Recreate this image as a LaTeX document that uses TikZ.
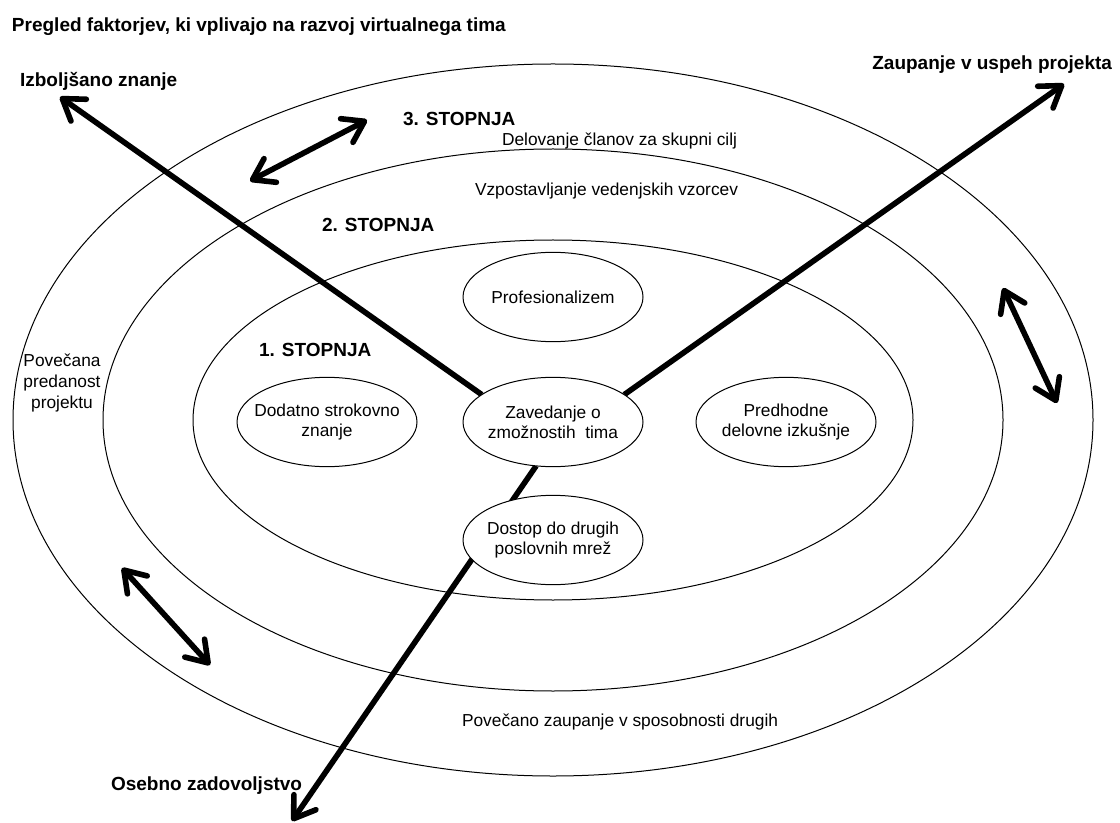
\documentclass[tikz,border=0pt]{standalone}
\usepackage{fontspec}
\setmainfont{Liberation Sans}
\usetikzlibrary{arrows.meta,shapes.geometric,backgrounds}

\begin{document}
\begin{tikzpicture}[x=.75pt, y=-.75pt,
    every node/.style={inner sep=0pt, outer sep=0pt},
    >={Straight Barb[length=15pt,width=20pt,round]},
    ring/.style ={draw=black, line width=.75pt},
    item/.style ={draw=black, fill=white, ellipse, line width=.75pt,
                  minimum width=135pt, minimum height=67pt, inner xsep=-12pt,
                  align=center, font=\fontsize{13}{15}\selectfont},
    txt/.style  ={font=\fontsize{13}{15.75}\selectfont, align=center},
    hdr/.style  ={font=\fontsize{14.25}{17}\selectfont\bfseries},
    thk/.style  ={->, line width=4.2pt},
    dbl/.style  ={<->, line width=4.2pt}]

\useasboundingbox (0,0) rectangle (1120,823);

\def\CX{553}  \def\CY{420}   % centre of the rings

% ── three stages (rings) ────────────────────────────────────────────────
\coordinate (ctr) at (\CX,\CY);
\draw[ring] (ctr) ellipse [x radius=540, y radius=356];
\draw[ring] (ctr) ellipse [x radius=450, y radius=271];
\draw[ring] (ctr) ellipse [x radius=360, y radius=180];

% ── factors ─────────────────────────────────────────────────────────────
\node[item] (prof) at (\CX,297) {Profesionalizem};
\node[item] (zav)  at (\CX,422) {Zavedanje o\\zmožnostih\ \ tima};
\node[item] (dod)  at (327,422) {Dodatno strokovno\\znanje};
\node[item] (pre)  at (786,422) {Predhodne\\delovne izkušnje};
\node[item] (dos)  at (\CX,540) {Dostop do drugih\\poslovnih mrež};

% ── texts ───────────────────────────────────────────────────────────────
\node[hdr, anchor=base west] (title) at (12,32)
  {Pregled faktorjev, ki vplivajo na razvoj virtualnega tima};
\node[hdr, anchor=base west] (tIzb) at (20,87)   {Izboljšano znanje};
\node[hdr, anchor=base east] (tZau) at (1112,70) {Zaupanje v uspeh projekta};
\node[hdr, anchor=base west] (tOse) at (111,790) {Osebno zadovoljstvo};
\node[hdr, anchor=base west] (st3)  at (403,126) {3. STOPNJA};
\node[hdr, anchor=base west] (st2)  at (322,232) {2. STOPNJA};
\node[hdr, anchor=base west] (st1)  at (259,357) {1. STOPNJA};

\node[txt, anchor=base west] (del) at (502,146) {Delovanje članov za skupni cilj};
\node[txt, anchor=base west] (vzp) at (475,196) {Vzpostavljanje vedenjskih vzorcev};
\node[txt, anchor=base west] (zau) at (462,726) {Povečano zaupanje v sposobnosti drugih};
\node[txt] (pdn) at (62,383) {Povečana\\predanost\\projektu};

% ── arrows ──────────────────────────────────────────────────────────────
\coordinate (aIzb) at (60,97);
\coordinate (aZau) at (1064,84);
\coordinate (aOse) at (292,821);
\begin{scope}[on background layer]
  \draw[thk] (zav.159) -- (aIzb);
  \draw[thk] (zav.21)  -- (aZau);
  \draw[thk] (zav.249) -- (aOse);
\end{scope}

\coordinate (s1a) at (250,181);  \coordinate (s1b) at (367,120);
\coordinate (s2a) at (1003,288); \coordinate (s2b) at (1057,403);
\coordinate (s3a) at (122,568);  \coordinate (s3b) at (210,665);
\draw[dbl] (s1a) -- (s1b);
\draw[dbl] (s2a) -- (s2b);
\draw[dbl] (s3a) -- (s3b);
\end{tikzpicture}
\end{document}
